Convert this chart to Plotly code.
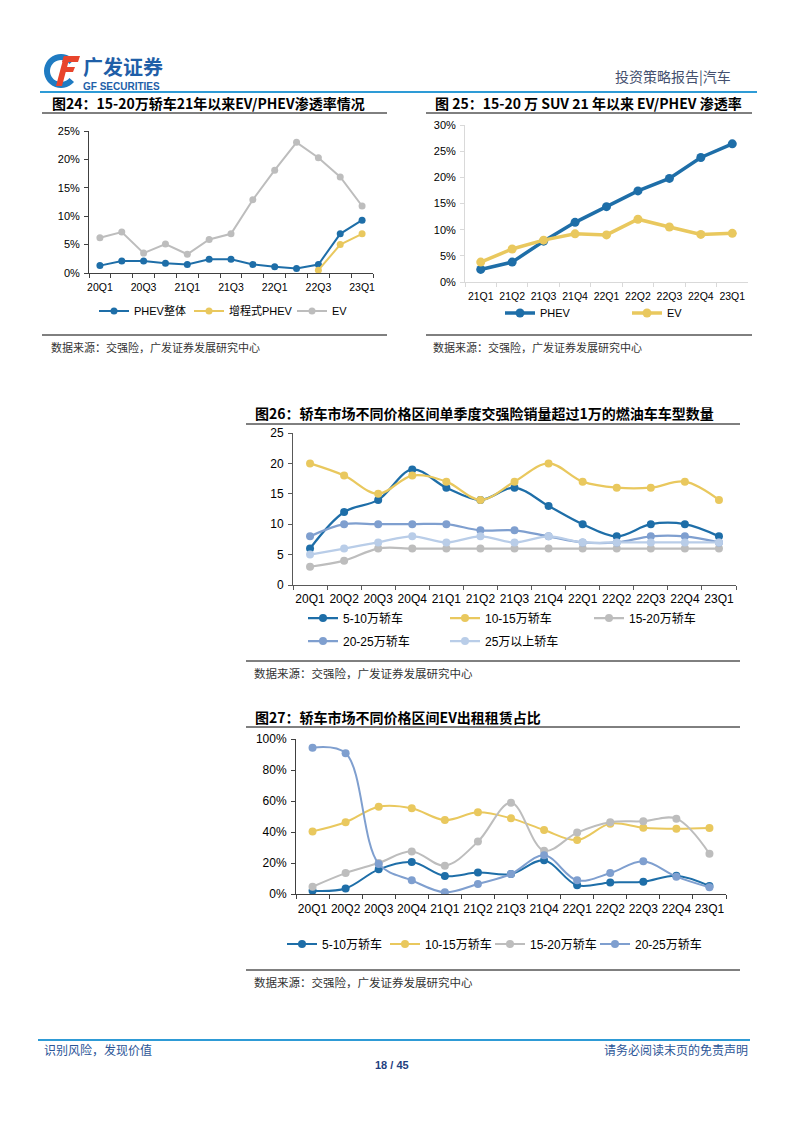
import plotly.graph_objects as go
import math

W, H = 794, 1123
def X(px): return px / W
def Y(py): return 1 - py / H

# ---------------- data ----------------
q24 = ['20Q1','20Q2','20Q3','20Q4','21Q1','21Q2','21Q3','21Q4','22Q1','22Q2','22Q3','22Q4','23Q1']
tick24 = ['20Q1','','20Q3','','21Q1','','21Q3','','22Q1','','22Q3','','23Q1']
phev_total_24 = [1.3, 2.1, 2.1, 1.7, 1.5, 2.4, 2.4, 1.5, 1.1, 0.8, 1.5, 6.9, 9.3]
erev_24 = [None, None, None, None, None, None, None, None, None, None, 0.5, 5.0, 6.9]
ev_24 = [6.2, 7.2, 3.5, 5.1, 3.3, 5.9, 6.9, 12.9, 18.1, 23.0, 20.3, 16.9, 11.8]

q25 = ['21Q1','21Q2','21Q3','21Q4','22Q1','22Q2','22Q3','22Q4','23Q1']
phev_25 = [2.4, 3.8, 7.8, 11.4, 14.4, 17.4, 19.8, 23.8, 26.4]
ev_25 = [3.8, 6.3, 8.0, 9.2, 9.0, 12.0, 10.5, 9.1, 9.3]

q26 = ['20Q1','20Q2','20Q3','20Q4','21Q1','21Q2','21Q3','21Q4','22Q1','22Q2','22Q3','22Q4','23Q1']
s26_5_10 = [6, 12, 14, 19, 16, 14, 16, 13, 10, 8, 10, 10, 8]
s26_10_15 = [20, 18, 15, 18, 17, 14, 17, 20, 17, 16, 16, 17, 14]
s26_15_20 = [3, 4, 6, 6, 6, 6, 6, 6, 6, 6, 6, 6, 6]
s26_20_25 = [8, 10, 10, 10, 10, 9, 9, 8, 7, 7, 8, 8, 7]
s26_25p = [5, 6, 7, 8, 7, 8, 7, 8, 7, 7, 7, 7, 7]

q27 = q26
s27_5_10 = [2.1, 3.6, 15.9, 20.6, 11.6, 13.8, 12.9, 21.7, 5.6, 7.5, 7.9, 11.8, 5.2]
s27_10_15 = [40.4, 46.3, 56.3, 55.3, 47.7, 52.7, 48.8, 41.3, 34.8, 45.4, 42.8, 42.1, 42.6]
s27_15_20 = [4.7, 13.5, 20.0, 27.5, 18.3, 33.8, 58.9, 27.9, 39.6, 46.3, 46.9, 48.6, 26.0]
s27_20_25 = [94.4, 90.8, 19.4, 8.8, 1.1, 6.5, 12.9, 25.0, 8.8, 13.5, 21.1, 11.2, 4.3]

# ---------------- styles ----------------
BLUE = '#1E6EA8'
YELLOW = '#E9C85E'
GRAY = '#BDBDBD'
MIDBLUE = '#7F9FCF'
LIGHTBLUE = '#B9CDE8'
LAT = 'Liberation Sans, Arial, Noto Sans CJK SC'
CJK = 'Noto Sans CJK SC, Liberation Sans'

fig = go.Figure()

def add(x, y, name, color, xa, ya, legend, lw, ms, shape='linear', legendwidth=None):
    fig.add_trace(go.Scatter(
        x=x, y=y, name=name, mode='lines+markers',
        line=dict(color=color, width=lw, shape=shape, smoothing=1),
        marker=dict(color=color, size=ms, symbol='circle'),
        xaxis=xa, yaxis=ya, legend=legend, legendwidth=legendwidth,
        connectgaps=False, hoverinfo='skip'))

# chart 24
add(q24, phev_total_24, 'PHEV整体', BLUE, 'x', 'y', 'legend', 2, 7, legendwidth=50)
add(q24, erev_24, '增程式PHEV', YELLOW, 'x', 'y', 'legend', 2, 7, legendwidth=58)
add(q24, ev_24, 'EV', GRAY, 'x', 'y', 'legend', 2, 7, legendwidth=20)
# chart 25
add(q25, phev_25, 'PHEV', BLUE, 'x2', 'y2', 'legend2', 3.5, 9, legendwidth=82)
add(q25, ev_25, 'EV', YELLOW, 'x2', 'y2', 'legend2', 3.5, 9, legendwidth=20)
# chart 26
add(q26, s26_5_10, '5-10万轿车', BLUE, 'x3', 'y3', 'legend3', 2.25, 8, 'spline', 97)
add(q26, s26_10_15, '10-15万轿车', YELLOW, 'x3', 'y3', 'legend3', 2.25, 8, 'spline', 99)
add(q26, s26_15_20, '15-20万轿车', GRAY, 'x3', 'y3', 'legend3', 2.25, 8, 'spline', 80)
add(q26, s26_20_25, '20-25万轿车', MIDBLUE, 'x3', 'y3', 'legend4', 2.25, 8, 'spline', 97)
add(q26, s26_25p, '25万以上轿车', LIGHTBLUE, 'x3', 'y3', 'legend4', 2.25, 8, 'spline', 80)
# chart 27
add(q27, s27_5_10, '5-10万轿车', BLUE, 'x4', 'y4', 'legend5', 2, 8, 'spline', 58)
add(q27, s27_10_15, '10-15万轿车', YELLOW, 'x4', 'y4', 'legend5', 2, 8, 'spline', 60)
add(q27, s27_15_20, '15-20万轿车', GRAY, 'x4', 'y4', 'legend5', 2, 8, 'spline', 60)
add(q27, s27_20_25, '20-25万轿车', MIDBLUE, 'x4', 'y4', 'legend5', 2, 8, 'spline', 67)

def xaxis(domain, anchor, n, linecolor, size, standoff, tickvals=None, ticktext=None):
    d = dict(domain=domain, anchor=anchor, type='category', range=[-0.5, n - 0.5],
             showline=True, linecolor=linecolor, linewidth=1, ticks='outside', ticklen=4,
             tickcolor=linecolor, tickson='boundaries', showgrid=False, zeroline=False,
             tickangle=0, automargin=False, ticklabelstandoff=standoff,
             tickfont=dict(family=LAT, size=size, color='#000'), fixedrange=True)
    if tickvals is not None:
        d.update(tickmode='array', tickvals=tickvals, ticktext=ticktext)
    return d

def yaxis(domain, anchor, rng, dtick, linecolor, size, suffix=''):
    return dict(domain=domain, anchor=anchor, range=rng, dtick=dtick, tick0=0,
                showline=True, linecolor=linecolor, linewidth=1, ticks='outside', ticklen=4,
                tickcolor=linecolor, showgrid=False, zeroline=False, ticksuffix=suffix,
                automargin=False, ticklabelstandoff=2,
                tickfont=dict(family=LAT, size=size, color='#000'), fixedrange=True)

fig.update_layout(
    width=W, height=H, margin=dict(l=0, r=0, t=0, b=0, pad=0), autosize=False,
    paper_bgcolor='white', plot_bgcolor='white',
    xaxis=xaxis([X(89), X(373)], 'y', 13, '#404040', 10.5, 4, q24, tick24),
    yaxis=yaxis([Y(273), Y(131)], 'x', [0, 25], 5, '#404040', 11, '%'),
    xaxis2=xaxis([X(465), X(748)], 'y2', 9, '#D9D9D9', 10.5, 4),
    yaxis2=yaxis([Y(282), Y(125)], 'x2', [0, 30], 5, '#D9D9D9', 11, '%'),
    xaxis3=xaxis([X(293), X(736)], 'y3', 13, '#595959', 12, 3),
    yaxis3=yaxis([Y(585), Y(433)], 'x3', [0, 25], 5, '#595959', 12),
    xaxis4=xaxis([X(296), X(726)], 'y4', 13, '#404040', 12, 4),
    yaxis4=yaxis([Y(894), Y(739)], 'x4', [0, 100], 20, '#404040', 12, '%'),
    showlegend=True,
)

def leg(xpx, ypx, size):
    return dict(x=X(xpx), y=Y(ypx), xanchor='left', yanchor='middle', orientation='h',
                font=dict(family=LAT, size=size, color='#000'), itemwidth=30,
                bgcolor='rgba(0,0,0,0)', borderwidth=0, traceorder='normal',
                itemclick=False, itemdoubleclick=False, tracegroupgap=0)

fig.update_layout(
    legend=leg(94, 311, 11),
    legend2=leg(500, 313, 11),
    legend3=leg(303, 618, 12),
    legend4=leg(303, 641, 12),
    legend5=leg(282, 944, 12),
)

# ---------------- text ----------------
ann = []
def text(xpx, ypx, s, size, color='#000', family=CJK, anchor='left', bold=False):
    ann.append(dict(x=X(xpx), y=Y(ypx), xref='paper', yref='paper', text=(f'<b>{s}</b>' if bold else s),
                    showarrow=False, xanchor=anchor, yanchor='middle',
                    font=dict(family=family, size=size, color=color)))

# header
text(733, 76, '投资策略报告|汽车', 14, '#44506E', anchor='right')
text(81, 66.5, '广发证券', 20, '#1F5FA8', bold=True)
text(81, 86.5, 'GF SECURITIES', 10, '#1F5FA8', family=LAT, bold=True)

# titles
text(50, 103, '图24：15-20万轿车21年以来EV/PHEV渗透率情况', 14, '#000', bold=True)
text(433, 103, '图 25：15-20 万 SUV 21 年以来 EV/PHEV 渗透率', 14, '#000', bold=True)
text(253, 413, '图26：轿车市场不同价格区间单季度交强险销量超过1万的燃油车车型数量', 14, '#000', bold=True)
text(253, 717, '图27：轿车市场不同价格区间EV出租租赁占比', 14, '#000', bold=True)

# sources
src = '数据来源：交强险，广发证券发展研究中心'
text(49, 347, src, 11, '#333')
text(431, 347, src, 11, '#333')
text(252, 673, src, 11.5, '#333')
text(252, 982, src, 11.5, '#333')

# footer
text(42, 1049, '识别风险，发现价值', 12, '#2B5597')
text(750, 1049, '请务必阅读末页的免责声明', 12, '#2B5597', anchor='right')
text(392, 1065, '18 / 45', 11, '#1F3F7F', family=LAT, anchor='center', bold=True)

fig.update_layout(annotations=ann)

# ---------------- shapes ----------------
shapes = []
def hline(x0, x1, ypx, color='#000', w=1):
    shapes.append(dict(type='line', xref='paper', yref='paper', x0=X(x0), x1=X(x1),
                       y0=Y(ypx), y1=Y(ypx), line=dict(color=color, width=w)))

hline(40, 757, 92, '#2E9BD6', 2)
hline(42, 387, 113)
hline(426, 752, 113)
hline(42, 387, 335)
hline(426, 752, 335)
hline(246, 740, 424)
hline(246, 740, 661)
hline(246, 740, 727)
hline(246, 740, 970)
hline(38, 750, 1040, '#2E9BD6', 2)

# logo mark (blue ring + red F)
def ppath(pts, close=True):
    s = 'M ' + ' L '.join(f'{X(px):.5f},{Y(py):.5f}' for px, py in pts)
    return s + (' Z' if close else '')

cx, cy, r1, r2 = 61, 71, 17, 11
outer = [(cx + r1 * math.cos(math.radians(a)), cy - r1 * math.sin(math.radians(a))) for a in range(40, 321, 10)]
inner = [(cx + r2 * math.cos(math.radians(a)), cy - r2 * math.sin(math.radians(a))) for a in range(320, 39, -10)]
shapes.append(dict(type='path', xref='paper', yref='paper', path=ppath(outer + inner),
                   fillcolor='#1F7BC2', line=dict(width=0)))
red = '#E8452C'
shapes.append(dict(type='path', xref='paper', yref='paper',
                   path=ppath([(64, 56), (80, 56), (78, 62), (62, 62)]), fillcolor=red, line=dict(width=0)))
shapes.append(dict(type='path', xref='paper', yref='paper',
                   path=ppath([(62, 67), (75, 67), (73, 72), (61, 72)]), fillcolor=red, line=dict(width=0)))
shapes.append(dict(type='path', xref='paper', yref='paper',
                   path=ppath([(64, 56), (70, 56), (62, 86), (56, 86)]), fillcolor=red, line=dict(width=0)))

fig.update_layout(shapes=shapes)

post = ("document.documentElement.style.margin='0';document.body.style.margin='0';"
        "document.body.style.padding='0';"
        "var gd=document.getElementById('{plot_id}');"
        "gd.style.position='absolute';gd.style.left='0px';gd.style.top='0px';"
        "document.documentElement.style.overflow='hidden';")

fig.write_html('out.html', config={'displayModeBar': False}, post_script=post)
